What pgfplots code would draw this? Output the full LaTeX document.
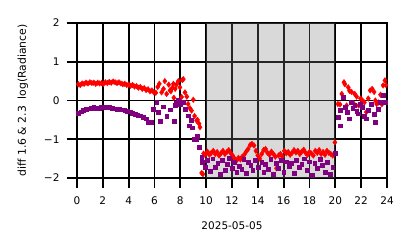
\documentclass[border=0pt]{standalone}
\usepackage{pgfplots}
\pgfplotsset{compat=1.18}
\usepackage{fontspec}
\setmainfont{DejaVu Sans}
\definecolor{mred}{RGB}{255,0,0}
\definecolor{mpurple}{RGB}{128,0,128}
\begin{document}
\begin{tikzpicture}
\begin{axis}[
  at={(0pt,0pt)}, anchor=south west,
  width=310pt, height=155pt, scale only axis,
  xmin=0, xmax=24, ymin=-2, ymax=2,
  xtick={0,2,...,24}, ytick={-2,-1,0,1,2},
  yticklabels={−2,−1,0,1,2},
  grid=major,
  major grid style={black, line width=1.8pt},
  axis line style={black, line width=1.8pt},
  tick style={black, line width=1.8pt},
  tick align=outside, major tick length=10pt,
  xtick pos=bottom, ytick pos=left,
  /pgf/number format/assume math mode=true,
  tick label style={font=\fontsize{10.5}{12}\selectfont},
  xticklabel style={yshift=-5pt},
  yticklabel style={xshift=-4pt},
  label style={font=\fontsize{10.5}{12}\selectfont},
  xlabel={2025-05-05},
  ylabel={diff 1.6 \& 2.3\ \ log(Radiance)},
  xlabel style={yshift=-10pt},
  ylabel style={yshift=9pt, font=\fontsize{10.8}{12}\selectfont},
  clip=true,
]
% red diamonds
\addplot[only marks, mark=diamond*, mark size=2.8pt, color=mred, mark options={draw=none, fill=mred}] coordinates {
(0.1,0.42)(0.25,0.40)(0.4,0.44)(0.55,0.43)(0.7,0.46)(0.85,0.44)(1.0,0.47)(1.15,0.45)(1.3,0.46)(1.45,0.43)
(1.6,0.46)(1.75,0.44)(1.9,0.45)(2.05,0.43)(2.2,0.47)(2.35,0.45)(2.5,0.48)(2.65,0.46)(2.8,0.49)(2.95,0.47)
(3.1,0.45)(3.25,0.47)(3.4,0.44)(3.55,0.42)(3.7,0.43)(3.85,0.40)(4.0,0.41)(4.15,0.38)(4.3,0.40)(4.45,0.36)
(4.6,0.37)(4.75,0.33)(4.9,0.35)(5.05,0.30)(5.2,0.32)(5.35,0.27)(5.5,0.29)(5.65,0.24)(5.8,0.26)(5.95,0.21)
(6.1,0.2)(6.25,0.35)(6.37,0.43)(6.55,0.21)(6.7,0.3)(6.8,0.5)(6.94,0.17)(7.1,0.41)(7.2,0.26)(7.27,0.24)
(7.38,0.33)(7.46,0.43)(7.5,0.07)(7.6,0.3)(7.7,0.41)(7.84,0.5)(7.97,0.34)(8.1,0.09)(8.15,0.53)(8.23,0.55)
(8.36,0.21)(8.5,0.1)(8.6,-0.09)(8.75,-0.2)(8.87,-0.26)(9.0,0.02)(9.1,-0.4)(9.26,-0.52)(9.33,-0.5)(9.45,-0.6)
(9.52,-0.69)(9.65,-1.87)(9.75,-1.9)(9.8,-1.37)(9.9,-1.4)(10.0,-1.37)
(10.1,-1.32)(10.25,-1.40)(10.4,-1.35)(10.55,-1.30)(10.7,-1.38)(10.85,-1.33)(11.0,-1.42)(11.15,-1.36)(11.3,-1.30)(11.45,-1.38)
(11.6,-1.33)(11.75,-1.28)(11.9,-1.36)(12.05,-1.42)(12.2,-1.50)(12.35,-1.55)(12.5,-1.48)(12.65,-1.52)(12.8,-1.45)(12.95,-1.40)
(13.1,-1.32)(13.25,-1.25)(13.4,-1.15)(13.55,-1.12)(13.7,-1.16)(13.85,-1.30)(14.0,-1.42)(14.15,-1.50)(14.3,-1.38)(14.45,-1.28)
(14.6,-1.25)(14.75,-1.35)(14.9,-1.40)(15.05,-1.32)(15.2,-1.38)(15.35,-1.45)(15.45,-1.75)(15.6,-1.42)(15.75,-1.38)(15.9,-1.45)
(16.05,-1.30)(16.2,-1.36)(16.35,-1.33)(16.5,-1.40)(16.65,-1.35)(16.8,-1.28)(16.95,-1.34)(17.1,-1.30)(17.25,-1.38)(17.4,-1.32)
(17.55,-1.27)(17.7,-1.35)(17.85,-1.40)(18.0,-1.33)(18.15,-1.37)(18.3,-1.42)(18.45,-1.30)(18.6,-1.35)(18.75,-1.28)(18.9,-1.38)
(19.05,-1.33)(19.2,-1.40)(19.35,-1.30)(19.5,-1.35)(19.65,-1.38)(19.8,-1.42)(19.97,-1.08)
(20.2,-0.09)(20.36,-0.1)(20.5,0.17)(20.67,0.47)(20.74,0.42)(20.87,-0.13)(21.0,0.34)(21.1,0.25)(21.26,0.22)(21.4,-0.07)
(21.5,0.17)(21.65,0.1)(21.8,-0.13)(21.95,0.05)(22.1,0.0)(22.25,-0.05)(22.4,-0.3)(22.55,0.05)(22.7,0.26)(22.85,0.3)
(23.0,0.22)(23.1,0.0)(23.2,-0.09)(23.35,-0.05)(23.5,0.15)(23.6,-0.1)(23.7,0.39)(23.84,0.52)(23.92,0.4)
};
% purple squares
\addplot[only marks, mark=square*, mark size=1.9pt, color=mpurple, mark options={draw=none, fill=mpurple}] coordinates {
(0.1,-0.33)(0.3,-0.29)(0.5,-0.25)(0.7,-0.22)(0.9,-0.21)(1.1,-0.19)(1.3,-0.18)(1.5,-0.19)(1.7,-0.20)(1.9,-0.18)
(2.1,-0.18)(2.3,-0.17)(2.5,-0.17)(2.7,-0.19)(2.9,-0.21)(3.1,-0.22)(3.3,-0.22)(3.5,-0.24)(3.7,-0.26)(3.9,-0.28)
(4.1,-0.29)(4.3,-0.32)(4.5,-0.35)(4.7,-0.37)(4.9,-0.39)(5.1,-0.43)(5.35,-0.47)(5.5,-0.55)(5.78,-0.56)
(5.9,-0.22)(6.17,-0.04)(6.3,-0.3)(6.43,-0.54)(6.68,-0.16)(6.94,-0.41)(7.2,-0.24)(7.53,-0.54)(7.6,-0.12)(7.7,-0.07)
(7.84,0.02)(8.0,-0.1)(8.2,-0.05)(8.36,-0.22)(8.6,-0.39)(8.7,-0.65)(8.87,-0.5)(8.9,-0.7)(9.1,-1.0)(9.26,-0.99)
(9.3,-0.93)(9.44,-1.2)(9.5,-1.22)(9.65,-1.46)(9.7,-1.59)(9.9,-1.72)
(10.1,-1.55)(10.3,-1.82)(10.5,-1.50)(10.7,-1.72)(10.9,-1.62)(11.1,-1.90)(11.25,-1.55)(11.45,-1.80)(11.6,-1.65)(11.8,-1.48)
(12.0,-1.75)(12.2,-1.60)(12.36,-1.85)(12.55,-1.70)(12.75,-1.77)(12.9,-1.52)(13.1,-1.88)(13.26,-1.59)(13.45,-1.68)(13.6,-1.80)
(13.8,-1.55)(14.0,-1.72)(14.3,-1.59)(14.45,-1.85)(14.6,-1.65)(14.8,-1.78)(15.0,-1.52)(15.2,-1.90)(15.4,-1.62)(15.6,-1.74)
(15.8,-1.55)(16.0,-1.85)(16.2,-1.58)(16.4,-1.70)(16.6,-1.62)(16.8,-1.88)(17.0,-1.55)(17.2,-1.72)(17.4,-1.65)(17.6,-1.50)
(17.8,-1.80)(18.0,-1.58)(18.2,-1.92)(18.4,-1.62)(18.6,-1.75)(18.8,-1.52)(19.0,-1.68)(19.2,-1.85)(19.4,-1.60)(19.6,-1.90)
(19.8,-1.72)(19.97,-1.37)
(20.2,-0.43)(20.36,-0.65)(20.4,-0.26)(20.6,0.09)(20.74,-0.17)(20.9,-0.3)(21.1,-0.47)(21.2,-0.05)(21.35,-0.2)(21.5,-0.13)
(21.65,-0.28)(21.8,-0.34)(21.95,-0.1)(22.1,-0.17)(22.25,-0.4)(22.4,-0.47)(22.55,-0.25)(22.8,-0.1)(23.0,-0.35)(23.1,-0.56)
(23.3,-0.23)(23.5,-0.05)(23.7,0.13)(23.85,-0.05)
};
% shaded span drawn on top
\addplot[draw=none, fill=gray, fill opacity=0.3] coordinates {(10,-2)(20,-2)(20,2)(10,2)} -- cycle;
\end{axis}
\pgfresetboundingbox
\path (-77pt,-70pt) rectangle (337pt,178pt);
\end{tikzpicture}
\end{document}
